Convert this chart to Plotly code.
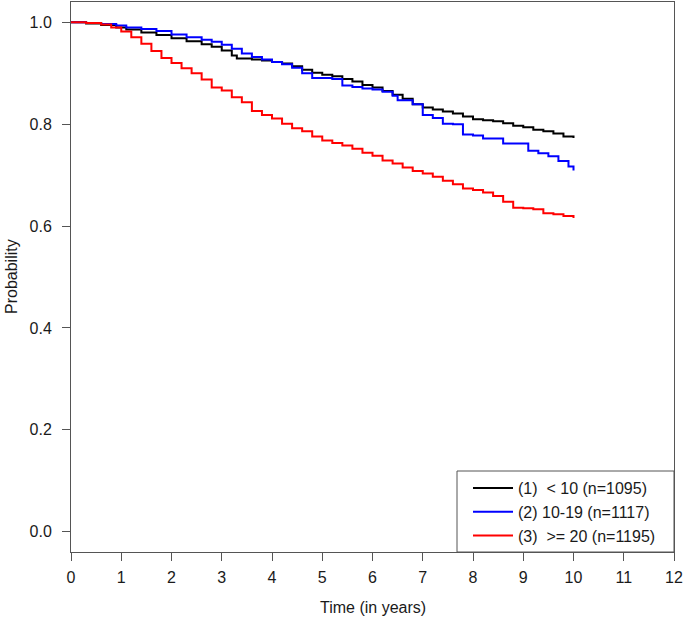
import plotly.graph_objects as go

# Kaplan-Meier style survival estimates
t_grp1 = [0, 0.3, 0.6, 0.9, 1.1, 1.4, 1.7, 2.0, 2.3, 2.6, 2.8, 3.0, 3.2, 3.3, 3.6, 3.8,
          4.0, 4.2, 4.4, 4.6, 4.8, 5.0, 5.2, 5.4, 5.6, 5.8, 6.0, 6.2, 6.4, 6.6, 6.8,
          7.0, 7.2, 7.4, 7.6, 7.8, 8.0, 8.2, 8.4, 8.6, 8.8, 9.0, 9.2, 9.4, 9.6, 9.8, 10.0]
s_grp1 = [1.000, 0.998, 0.995, 0.990, 0.986, 0.980, 0.975, 0.969, 0.963, 0.957, 0.952,
          0.945, 0.935, 0.929, 0.927, 0.925, 0.922, 0.919, 0.914, 0.907, 0.901, 0.897,
          0.894, 0.889, 0.884, 0.877, 0.872, 0.865, 0.858, 0.850, 0.839, 0.833, 0.829,
          0.825, 0.821, 0.815, 0.810, 0.808, 0.806, 0.802, 0.797, 0.794, 0.789, 0.786,
          0.782, 0.776, 0.773]

t_grp2 = [0, 0.3, 0.6, 0.9, 1.1, 1.4, 1.7, 2.0, 2.3, 2.6, 2.8, 3.0, 3.2, 3.4, 3.6, 3.8,
          4.0, 4.2, 4.4, 4.6, 4.8, 5.0, 5.2, 5.4, 5.6, 5.8, 6.0, 6.2, 6.4, 6.5, 6.8,
          7.0, 7.2, 7.4, 7.6, 7.8, 8.0, 8.2, 8.4, 8.6, 8.8, 9.0, 9.1, 9.3, 9.5, 9.7, 9.9, 10.0]
s_grp2 = [1.000, 0.999, 0.997, 0.994, 0.990, 0.987, 0.983, 0.976, 0.971, 0.966, 0.962,
          0.956, 0.948, 0.939, 0.932, 0.927, 0.922, 0.918, 0.911, 0.900, 0.891, 0.891,
          0.889, 0.876, 0.873, 0.870, 0.868, 0.864, 0.856, 0.847, 0.839, 0.818, 0.812,
          0.801, 0.800, 0.780, 0.778, 0.772, 0.772, 0.762, 0.762, 0.762, 0.748, 0.743,
          0.737, 0.728, 0.717, 0.709]

t_grp3 = [0, 0.3, 0.6, 0.8, 1.0, 1.2, 1.4, 1.6, 1.8, 2.0, 2.2, 2.4, 2.6, 2.8, 3.0, 3.2,
          3.4, 3.6, 3.8, 4.0, 4.2, 4.4, 4.6, 4.8, 5.0, 5.2, 5.4, 5.6, 5.8, 6.0, 6.2,
          6.4, 6.6, 6.8, 7.0, 7.2, 7.4, 7.6, 7.8, 8.0, 8.2, 8.4, 8.6, 8.8, 9.0, 9.2,
          9.4, 9.6, 9.8, 10.0]
s_grp3 = [1.000, 0.999, 0.996, 0.990, 0.982, 0.971, 0.958, 0.944, 0.930, 0.920, 0.910,
          0.900, 0.888, 0.872, 0.866, 0.853, 0.843, 0.826, 0.818, 0.811, 0.801, 0.792,
          0.786, 0.776, 0.768, 0.763, 0.758, 0.752, 0.744, 0.738, 0.729, 0.723, 0.715,
          0.708, 0.703, 0.697, 0.689, 0.682, 0.674, 0.671, 0.666, 0.659, 0.648, 0.636,
          0.635, 0.633, 0.625, 0.623, 0.620, 0.616]

labels = ["(1)\u00a0 < 10 (n=1095)", "(2) 10-19 (n=1117)", "(3)\u00a0 >= 20 (n=1195)"]
colors = ["#000000", "#0000FF", "#FF0000"]

x_ticks = list(range(0, 13))
y_ticks = [0.0, 0.2, 0.4, 0.6, 0.8, 1.0]
y_ticklabels = ["0.0", "0.2", "0.4", "0.6", "0.8", "1.0"]
x_title = "Time (in years)"
y_title = "Probability"

FONT = "Arial, Liberation Sans, sans-serif"
TXT = "#1a1a1a"
AX = "#555555"

fig = go.Figure()
for t, s, lab, col in zip([t_grp1, t_grp2, t_grp3], [s_grp1, s_grp2, s_grp3], labels, colors):
    fig.add_trace(go.Scatter(x=t, y=s, mode="lines", name=lab,
                             line=dict(color=col, width=2, shape="hv")))

axis_common = dict(showline=True, linecolor=AX, linewidth=1, mirror=True,
                   ticks="outside", ticklen=8, tickcolor=AX, showgrid=False,
                   zeroline=False, automargin=False, ticklabeloverflow="allow",
                   tickfont=dict(family=FONT, size=16, color=TXT))

# plot area in pixels: x 71..674, y 2..552
fig.update_layout(
    width=685, height=624,
    margin=dict(l=71, r=11, t=2, b=72),
    paper_bgcolor="white", plot_bgcolor="white",
    font=dict(family=FONT, size=16, color=TXT),
    xaxis=dict(range=[0, 12], tickvals=x_ticks, ticktext=[str(v) for v in x_ticks],
               ticklabelstandoff=3, **axis_common),
    yaxis=dict(range=[-0.04, 1.04], tickvals=y_ticks, ticktext=y_ticklabels,
               ticklabelstandoff=7, **axis_common),
    legend=dict(x=(468 - 71) / 603, y=(552 - 471) / 550, xanchor="left", yanchor="top",
                borderwidth=0, bgcolor="rgba(0,0,0,0)",
                font=dict(family=FONT, size=16, color=TXT),
                tracegroupgap=0, itemwidth=40),
    shapes=[dict(type="rect", xref="paper", yref="paper",
                 x0=(457 - 71) / 603, x1=1.0, y0=0, y1=(552 - 471) / 550,
                 line=dict(color=AX, width=1), fillcolor="white", layer="below")],
    annotations=[
        dict(text=x_title, xref="paper", yref="paper", x=0.5, y=-(607 - 552) / 550,
             showarrow=False, xanchor="center", yanchor="middle",
             font=dict(family=FONT, size=16, color=TXT)),
        dict(text=y_title, xref="paper", yref="paper", x=-(71 - 11) / 603, y=0.5,
             showarrow=False, xanchor="center", yanchor="middle", textangle=-90,
             font=dict(family=FONT, size=16, color=TXT)),
    ],
)

fig.write_html("out.html", config={"displayModeBar": False},
               post_script="document.body.style.margin='0';document.body.style.overflow='hidden';")
